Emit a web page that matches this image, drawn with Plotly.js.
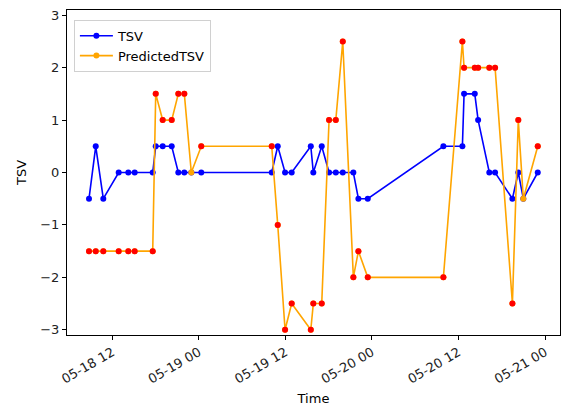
<!DOCTYPE html>
<html><head><meta charset="utf-8">
<script src="https://cdn.plot.ly/plotly-3.0.1.min.js"></script>
<style>html,body{margin:0;padding:0;background:#fff}#c{width:563px;height:409px}</style>
</head><body><div id="c"></div>
<script>
const times = [
"2023-05-18 08:46","2023-05-18 09:42","2023-05-18 10:45","2023-05-18 12:53","2023-05-18 14:13","2023-05-18 15:06",
"2023-05-18 17:36","2023-05-18 18:01","2023-05-18 18:59","2023-05-18 20:14","2023-05-18 21:09","2023-05-18 21:59",
"2023-05-18 22:57","2023-05-19 00:20","2023-05-19 10:06","2023-05-19 10:56","2023-05-19 11:57","2023-05-19 12:52",
"2023-05-19 15:31","2023-05-19 15:52","2023-05-19 17:02","2023-05-19 18:03","2023-05-19 18:59","2023-05-19 19:57",
"2023-05-19 21:25","2023-05-19 22:07","2023-05-19 23:25","2023-05-20 09:54","2023-05-20 12:32","2023-05-20 12:46",
"2023-05-20 14:15","2023-05-20 14:43","2023-05-20 16:16","2023-05-20 17:04","2023-05-20 19:28","2023-05-20 20:17",
"2023-05-20 20:59","2023-05-20 22:59"];
const tsv = [-0.5,0.5,-0.5,0,0,0, 0,0.5,0.5,0.5,0,0, 0,0,0,0.5,0,0, 0.5,0,0.5,0,0,0, 0,-0.5,-0.5,0.5,0.5,1.5, 1.5,1,0,0,-0.5,0, -0.5,0];
const predicted = [-1.5,-1.5,-1.5,-1.5,-1.5,-1.5, -1.5,1.5,1,1,1.5,1.5, 0,0.5,0.5,-1,-3,-2.5, -3,-2.5,-2.5,1,1,2.5, -2,-1.5,-2,-2,2.5,2, 2,2,2,2,-2.5,1, -0.5,0.5];
const yTicks = [-3,-2,-1,0,1,2,3];

const mx = [], my = [];
for (let i = 0; i < times.length; i++) {
  if (predicted[i] !== tsv[i]) { mx.push(times[i]); my.push(predicted[i]); }
}

const data = [
  {x: times, y: tsv, name: 'TSV', type: 'scatter', mode: 'lines+markers',
   line: {color: '#0000ff', width: 1.6}, marker: {color: '#0000ff', size: 6}},
  {x: times, y: predicted, name: 'PredictedTSV', type: 'scatter', mode: 'lines+markers',
   line: {color: '#ffa500', width: 1.6}, marker: {color: '#ffa500', size: 6}},
  {x: mx, y: my, type: 'scatter', mode: 'markers', showlegend: false,
   marker: {color: '#ff0000', size: 6}}
];

const layout = {
  width: 563, height: 409,
  margin: {l: 67, r: 3, t: 10, b: 74},
  paper_bgcolor: '#fff', plot_bgcolor: '#fff',
  font: {family: 'DejaVu Sans', size: 13, color: '#222'},
  showlegend: true,
  legend: {x: 0.014, y: 0.97, xanchor: 'left', yanchor: 'top', bgcolor: 'rgba(255,255,255,0.8)',
           bordercolor: '#d0d0d0', borderwidth: 1, font: {size: 13, color: '#000'},
           itemwidth: 33, tracegroupgap: 0},
  xaxis: {
    type: 'date', range: ['2023-05-18 05:43', '2023-05-21 02:04'],
    tick0: '2023-05-18 00:00', dtick: 43200000, tickformat: '%m-%d %H', tickangle: -30,
    showline: true, linecolor: '#000', linewidth: 1, mirror: true,
    ticks: 'outside', ticklen: 4, tickcolor: '#000', showgrid: false, zeroline: false,
    title: {text: 'Time', font: {size: 13, color: '#000'}, standoff: 8}
  },
  yaxis: {
    range: [-3.1, 3.1], tickvals: yTicks, ticktext: yTicks.map(v => v < 0 ? '\u2212' + Math.abs(v) : String(v)),
    showline: true, linecolor: '#000', linewidth: 1, mirror: true,
    ticks: 'outside', ticklen: 4, tickcolor: '#000', showgrid: false, zeroline: false,
    title: {text: 'TSV', font: {size: 13, color: '#000'}, standoff: 10}
  }
};
Plotly.newPlot('c', data, layout, {displayModeBar: false, staticPlot: true});
</script></body></html>
